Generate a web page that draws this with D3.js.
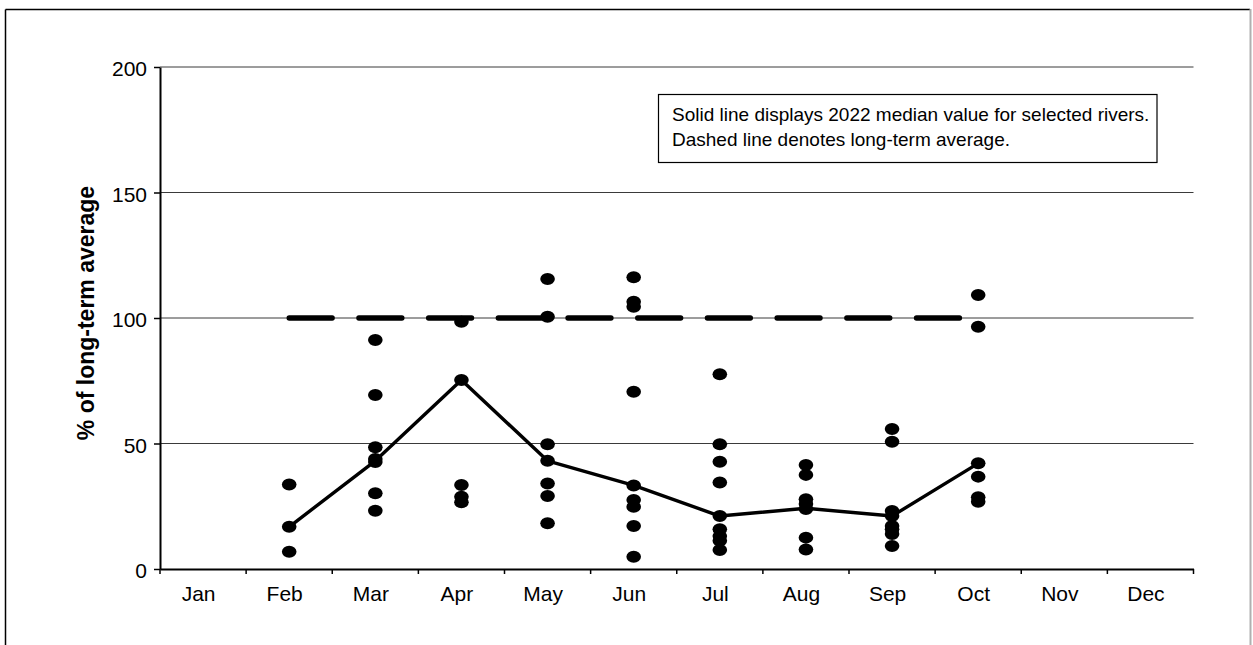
<!DOCTYPE html>
<html>
<head>
<meta charset="utf-8">
<script src="https://cdn.jsdelivr.net/npm/d3@7"></script>
<style>
  html, body { margin: 0; padding: 0; background: #fff; }
  svg { display: block; font-family: "Liberation Sans", Arial, sans-serif; }
</style>
</head>
<body>
<svg id="chart" width="1253" height="645"></svg>
<script>
// Months on the category axis
const months = ["Jan", "Feb", "Mar", "Apr", "May", "Jun", "Jul", "Aug", "Sep", "Oct", "Nov", "Dec"];

// Individual river flows, % of long-term average, per month
const janRivers = [];
const febRivers = [33.7, 16.8, 6.9];
const marRivers = [91.2, 69.3, 48.5, 43.8, 42.6, 30.2, 23.2];
const aprRivers = [98.5, 75.3, 33.5, 28.8, 26.6];
const mayRivers = [115.5, 100.5, 49.7, 43.1, 34.1, 29.1, 18.2];
const junRivers = [116.2, 106.5, 104.5, 70.6, 33.3, 27.5, 24.8, 17.1, 4.9];
const julRivers = [77.6, 49.7, 42.7, 34.5, 21.1, 15.8, 13.1, 11.3, 7.6];
const augRivers = [41.4, 37.5, 27.8, 25.9, 23.9, 12.5, 7.8];
const sepRivers = [55.8, 50.7, 23.1, 21.1, 17.1, 15.8, 13.9, 9.2];
const octRivers = [109.2, 96.5, 42.1, 36.8, 28.6, 26.8];
const novRivers = [];
const decRivers = [];

// 2022 median of selected rivers (solid line)
const median2022 = [null, 16.8, 43.1, 75.3, 43.1, 33.3, 21.1, 24.2, 21.1, 42.1, null, null];
// Long-term average reference (dashed line)
const longTermAverage = [null, 100, 100, 100, 100, 100, 100, 100, 100, 100, null, null];

const yTicks = [0, 50, 100, 150, 200];

const riverValues = [janRivers, febRivers, marRivers, aprRivers, mayRivers, junRivers,
                     julRivers, augRivers, sepRivers, octRivers, novRivers, decRivers];

const svg = d3.select("#chart");

// Outer chart frame
svg.append("line").attr("x1", 5.5).attr("x2", 1250).attr("y1", 9.5).attr("y2", 9.5)
  .attr("stroke", "#000").attr("stroke-width", 1.5);
svg.append("line").attr("x1", 5.5).attr("x2", 5.5).attr("y1", 9.5).attr("y2", 645)
  .attr("stroke", "#000").attr("stroke-width", 1.5);
svg.append("line").attr("x1", 1250.5).attr("x2", 1250.5).attr("y1", 9).attr("y2", 645)
  .attr("stroke", "#b0b0b0").attr("stroke-width", 2);

const plotLeft = 160, plotRight = 1193.5, plotTop = 67, plotBottom = 569;

const x = d3.scaleBand().domain(months).range([plotLeft, plotRight]).padding(0);
const y = d3.scaleLinear().domain([0, 200]).range([plotBottom, plotTop]);
const cx = m => x(m) + x.bandwidth() / 2;

// Horizontal gridlines
svg.append("g").selectAll("line")
  .data(yTicks.filter(t => t > 0))
  .join("line")
  .attr("x1", plotLeft).attr("x2", plotRight)
  .attr("y1", d => y(d)).attr("y2", d => y(d))
  .attr("stroke", "#3a3a3a").attr("stroke-width", 1);

// Y axis
const yAxis = svg.append("g")
  .attr("transform", `translate(${plotLeft},0)`)
  .call(d3.axisLeft(y).tickValues(yTicks).tickSize(6).tickSizeOuter(0).tickPadding(7));
yAxis.select(".domain").attr("stroke", "#000").attr("stroke-width", 2);
yAxis.selectAll(".tick line").attr("stroke", "#000").attr("stroke-width", 1.5);
yAxis.selectAll(".tick text")
  .attr("font-size", 21).attr("font-family", "Liberation Sans, Arial, sans-serif")
  .attr("fill", "#000").attr("dy", "0.42em");

// X axis: labels centred on categories, tick marks on category boundaries
const xAxis = svg.append("g")
  .attr("transform", `translate(0,${plotBottom})`)
  .call(d3.axisBottom(x).tickSize(0).tickPadding(17));
xAxis.select(".domain").attr("stroke", "#000").attr("stroke-width", 2);
xAxis.selectAll(".tick text")
  .attr("font-size", 21).attr("font-family", "Liberation Sans, Arial, sans-serif")
  .attr("fill", "#000").attr("dx", -4.5);

const boundaries = months.map(m => x(m)).concat([x(months[months.length - 1]) + x.bandwidth()]);
svg.append("g").selectAll("line")
  .data(boundaries)
  .join("line")
  .attr("x1", d => d).attr("x2", d => d)
  .attr("y1", plotBottom).attr("y2", plotBottom + 5)
  .attr("stroke", "#000").attr("stroke-width", 1.5);

// Y axis title
svg.append("text")
  .attr("transform", `translate(94,${(plotTop + plotBottom) / 2 - 5}) rotate(-90)`)
  .attr("text-anchor", "middle")
  .attr("font-size", 23).attr("font-weight", "bold")
  .attr("fill", "#000")
  .text("% of long-term average");

// Dashed long-term average line
const avgLine = d3.line()
  .defined(d => d != null)
  .x((d, i) => cx(months[i]))
  .y(d => y(d));
svg.append("path")
  .datum(longTermAverage)
  .attr("d", avgLine)
  .attr("fill", "none").attr("stroke", "#000").attr("stroke-width", 5.3)
  .attr("stroke-linecap", "round")
  .attr("stroke-dasharray", "43,26.7");

// Solid median line
const medLine = d3.line()
  .defined(d => d != null)
  .x((d, i) => cx(months[i]))
  .y(d => y(d));
svg.append("path")
  .datum(median2022)
  .attr("d", medLine)
  .attr("fill", "none").attr("stroke", "#000").attr("stroke-width", 3.4)
  .attr("stroke-linejoin", "round");

// River markers
const points = [];
riverValues.forEach((vals, i) => vals.forEach(v => points.push({ m: months[i], v })));
svg.append("g").selectAll("ellipse")
  .data(points)
  .join("ellipse")
  .attr("cx", d => cx(d.m))
  .attr("cy", d => y(d.v))
  .attr("rx", 7.3).attr("ry", 6)
  .attr("fill", "#000");

// Note box
const note = svg.append("g");
note.append("rect")
  .attr("x", 658.5).attr("y", 94.5).attr("width", 498.5).attr("height", 68)
  .attr("fill", "#fff").attr("stroke", "#000").attr("stroke-width", 1.2);
note.append("text").attr("x", 672).attr("y", 121)
  .attr("font-size", 19).attr("fill", "#000")
  .text("Solid line displays 2022 median value for selected rivers.");
note.append("text").attr("x", 672).attr("y", 146)
  .attr("font-size", 19).attr("fill", "#000")
  .text("Dashed line denotes long-term average.");
</script>
</body>
</html>
